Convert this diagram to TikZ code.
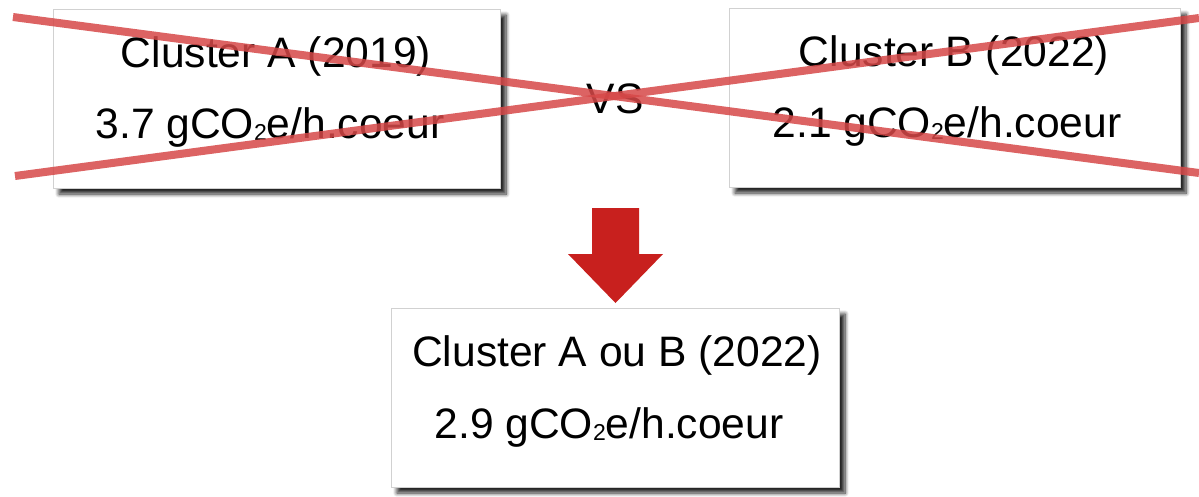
\documentclass[tikz,border=0pt]{standalone}
\usepackage{fontspec}
\setmainfont{Liberation Sans}
\usetikzlibrary{shadows.blur}
\definecolor{crossred}{RGB}{214,72,72}
\definecolor{arrowred}{RGB}{200,32,30}
\newcommand{\sub}[1]{{\fontsize{23}{23}\selectfont\raisebox{-2.5pt}{#1}}}
\begin{document}
\begin{tikzpicture}[x=1pt,y=-1pt,
  box/.style={draw=black!18, line width=1pt, fill=white, rectangle, inner sep=0pt,
    blur shadow={shadow xshift=6pt, shadow yshift=-6pt, shadow blur steps=8, shadow blur radius=4pt, shadow opacity=85}},
  txt/.style={anchor=base, inner sep=0pt, font=\fontsize{42.6}{50}\selectfont},
  cross/.style={draw=crossred, line width=8pt, opacity=0.85}]
\useasboundingbox (0,0) rectangle (1199,496);
\node[box, minimum width=447pt, minimum height=179pt] (A) at (276.5,98.5) {};
\node[box, minimum width=451pt, minimum height=179pt] (B) at (954.5,97.5) {};
\node[box, minimum width=448pt, minimum height=179pt] (C) at (615,397.5) {};
\node[txt] (A1) at (276,67) {Cluster A (2019)};
\node[txt] (A2) at (270,138) {3.7 gCO\sub{2}e/h.coeur};
\node[txt] (B1) at (954,66) {Cluster B (2022)};
\node[txt] (B2) at (947,137) {2.1 gCO\sub{2}e/h.coeur};
\node[txt] (C1) at (617,366) {Cluster A ou B (2022)};
\node[txt] (C2) at (609,438) {2.9 gCO\sub{2}e/h.coeur};
\node[txt] (VS) at (615,113) {VS};
\coordinate (L1s) at (13,17);
\coordinate (L1e) at (1199,173);
\coordinate (L2s) at (15,176);
\coordinate (L2e) at (1199,18);
\draw[cross] (L1s) -- (L1e);
\draw[cross] (L2s) -- (L2e);
\fill[arrowred] (592,208) -- (639,208) -- (639,254) -- (663,254) -- (615.5,303) -- (568,254) -- (592,254) -- cycle;
\end{tikzpicture}
\end{document}
